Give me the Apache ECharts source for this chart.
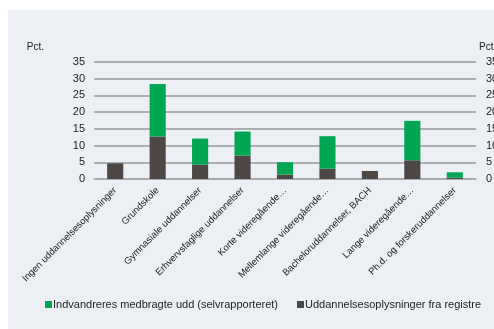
<!DOCTYPE html>
<html><head><meta charset="utf-8">
<script src="https://cdn.jsdelivr.net/npm/echarts@6/dist/echarts.min.js"></script>
<style>html,body{margin:0;padding:0;background:#fff}#c{width:494px;height:329px}</style>
</head><body><div id="c"></div>
<script>
const categories = ["Ingen uddannelsesoplysninger","Grundskole","Gymnasiale uddannelser","Erhvervsfaglige uddannelser","Korte videregående…","Mellemlange videregående…","Bacheloruddannelser, BACH","Lange videregående…","Ph.d. og forskeruddannelser"];
const registre = [4.7, 12.7, 4.3, 7.0, 1.3, 3.1, 2.4, 5.6, 0.4];
const medbragte = [0, 15.7, 7.8, 7.2, 3.7, 9.7, 0, 11.8, 1.6];
const yTicks = [0, 5, 10, 15, 20, 25, 30, 35];
const seriesNames = ["Indvandreres medbragte udd (selvrapporteret)", "Uddannelsesoplysninger fra registre"];

const chart = echarts.init(document.getElementById('c'), null, {renderer:'canvas'});
const font = '"Liberation Sans", Arial, Helvetica, sans-serif';
const yAxisBase = {
  type:'value', min:yTicks[0], max:yTicks[yTicks.length-1], interval:5,
  name:'Pct.', nameLocation:'end', nameGap:10,
  axisLine:{show:false}, axisTick:{show:false},
  splitLine:{show:true, lineStyle:{color:'#a9abad', width:1.5}}
};
chart.setOption({
  animation:false,
  backgroundColor:'#ffffff',
  graphic:[{type:'rect', left:8, top:10, shape:{width:486, height:319}, style:{fill:'#ECEFF3'}, z:-10}],
  grid:{left:94, right:18, top:62, bottom:150, containLabel:false, outerBoundsMode:'none'},
  legend:{
    data:seriesNames, left:40, top:294, itemWidth:7, itemHeight:7, itemGap:19,
    icon:'rect',
    textStyle:{color:'#222', fontSize:11, fontFamily:font, padding:[0,0,0,-4]}
  },
  xAxis:{
    type:'category', data:categories,
    axisLine:{show:true, lineStyle:{color:'#a9abad', width:1.5}}, axisTick:{show:false},
    axisLabel:{rotate:45, interval:0, color:'#222', fontSize:9.5, fontFamily:font, margin:10}
  },
  yAxis:[
    Object.assign({}, yAxisBase, {position:'left',
      nameTextStyle:{color:'#222', fontSize:10, fontFamily:font, align:'right', padding:[0,50,0,0]},
      axisLabel:{color:'#222', fontSize:11, fontFamily:font, margin:9}}),
    Object.assign({}, yAxisBase, {position:'right',
      nameTextStyle:{color:'#222', fontSize:10, fontFamily:font, align:'left', padding:[0,0,0,3]},
      axisLabel:{color:'#222', fontSize:11, fontFamily:font, margin:10}})
  ],
  series:[
    {name:seriesNames[1], type:'bar', stack:'a', data:registre, barWidth:'38%',
     itemStyle:{color:'#4D4845'}},
    {name:seriesNames[0], type:'bar', stack:'a', data:medbragte, barWidth:'38%',
     itemStyle:{color:'#00A651'}}
  ]
});
</script></body></html>
